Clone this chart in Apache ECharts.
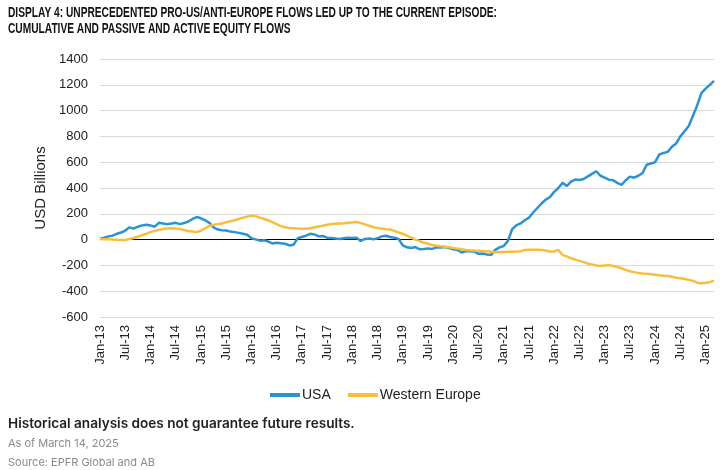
<!DOCTYPE html>
<html>
<head>
<meta charset="utf-8">
<script src="https://cdn.jsdelivr.net/npm/echarts@6/dist/echarts.min.js"></script>
<style>
html,body{margin:0;padding:0;background:#fff;}
#chart{width:724px;height:470px;}
</style>
</head>
<body>
<div id="chart"></div>
<script>
// Monthly observations from Jan-13 to Mar-25 (USD billions, cumulative flows)
const startYear = 2013;
const monthNames = ['Jan','Feb','Mar','Apr','May','Jun','Jul','Aug','Sep','Oct','Nov','Dec'];

const usa = [
  5, 15, 25, 30, 45, 55, 70, 95, 85, 100, 110, 115,
  110, 100, 130, 125, 120, 125, 130, 120, 128, 140, 160, 175,
  165, 150, 130, 95, 78, 72, 70, 62, 58, 52, 45, 38,
  10, 2, -8, -5, -15, -30, -25, -28, -32, -45, -40, 10,
  20, 30, 45, 40, 25, 28, 15, 12, 8, 5, 10, 15,
  12, 15, -10, 5, 8, 2, 10, 25, 30, 20, 15, 5,
  -45, -60, -65, -58, -75, -72, -68, -72, -60, -62, -58, -65,
  -75, -80, -100, -88, -90, -92, -110, -108, -115, -118, -80, -60,
  -50, -10, 80, 110, 125, 150, 170, 210, 245, 280, 310, 330,
  370, 400, 440, 415, 450, 465, 462, 470, 490, 510, 530, 495,
  480, 465, 460, 440, 425, 460, 488, 480, 495, 515, 580, 590,
  600, 660, 672, 680, 720, 745, 800, 840, 880, 960, 1040, 1135,
  1170, 1200, 1230
];

const westernEurope = [
  5, 3, 2, 0, -2, -3, -3, 5, 12, 22, 35, 45,
  58, 68, 75, 82, 86, 88, 87, 83, 75, 66, 62, 58,
  70, 88, 105, 116, 120, 124, 135, 142, 150, 160, 170, 178,
  185, 182, 170, 160, 150, 135, 120, 105, 95, 90, 88, 86,
  85, 85, 88, 95, 102, 108, 116, 120, 122, 124, 126, 130,
  133, 137, 128, 118, 108, 96, 90, 85, 80, 78, 68, 55,
  45, 30, 15, 0, -10, -25, -32, -42, -48, -52, -56, -60,
  -66, -70, -75, -80, -83, -85, -86, -88, -90, -95, -98, -98,
  -96, -95, -95, -93, -90, -80, -78, -78, -78, -80, -85, -93,
  -92, -80, -120, -130, -145, -155, -165, -175, -185, -192, -200, -205,
  -200, -198, -205, -212, -222, -235, -245, -252, -258, -262, -265, -268,
  -272, -276, -280, -283, -288, -295, -300, -306, -312, -320, -334, -338,
  -335, -330, -318
];

const categories = [];
for (let i = 0; i < usa.length; i++) {
  const y = startYear + Math.floor(i / 12);
  categories.push(monthNames[i % 12] + '-' + String(y).slice(2));
}

const yTicks = [-600, -400, -200, 0, 200, 400, 600, 800, 1000, 1200, 1400];
const titleLines = ['DISPLAY 4: UNPRECEDENTED PRO-US/ANTI-EUROPE FLOWS LED UP TO THE CURRENT EPISODE:',
                    'CUMULATIVE AND PASSIVE AND ACTIVE EQUITY FLOWS'];
const footnotes = ['Historical analysis does not guarantee future results.',
                   'As of March 14, 2025',
                   'Source: EPFR Global and AB'];

const splitColors = yTicks.map(v => v === 0 ? '#000000' : '#d9d9d9');

// condensed title: measure natural width, then squeeze horizontally to the reference width
const titleFontCss = 'bold 14px "Liberation Sans", Arial, sans-serif';
const mctx = document.createElement('canvas').getContext('2d');
mctx.font = titleFontCss;
const natural = mctx.measureText(titleLines[0]).width;
const titleScale = 489 / natural;

const chart = echarts.init(document.getElementById('chart'), null, {renderer: 'canvas'});
const footFont = 'Inter, "Noto Sans", sans-serif';
const axisFont = '"Liberation Sans", Arial, sans-serif';
chart.setOption({
  animation: false,
  backgroundColor: '#ffffff',
  graphic: [
    {type: 'text', left: 8, top: 6, scaleX: titleScale, originX: 0,
     style: {text: titleLines[0], font: titleFontCss, fill: '#111'}},
    {type: 'text', left: 8, top: 22, scaleX: titleScale, originX: 0,
     style: {text: titleLines[1], font: titleFontCss, fill: '#111'}}
  ],
  title: [
    {text: footnotes[0], left: 3, top: 412,
     textStyle: {fontFamily: footFont, fontWeight: 600, fontSize: 13.6, color: '#222'}},
    {text: footnotes[1], left: 3, top: 433,
     textStyle: {fontFamily: footFont, fontWeight: 'normal', fontSize: 11, color: '#8a8a8a'}},
    {text: footnotes[2], left: 3, top: 452,
     textStyle: {fontFamily: footFont, fontWeight: 'normal', fontSize: 11, color: '#8a8a8a'}}
  ],
  legend: {
    data: ['USA', 'Western Europe'],
    left: 265, top: 383,
    icon: 'rect', itemWidth: 30, itemHeight: 4, itemGap: 17,
    textStyle: {fontFamily: axisFont, fontSize: 14, color: '#222', padding: [0,0,0,-3]}
  },
  grid: {left: 100, right: 10, top: 59, bottom: 153, containLabel: false},
  xAxis: {
    type: 'category', data: categories, boundaryGap: false,
    axisLine: {show: false}, axisTick: {show: false},
    splitLine: {show: false},
    axisLabel: {interval: 5, rotate: 90, margin: 8, fontSize: 13, fontFamily: axisFont, color: '#222'}
  },
  yAxis: {
    type: 'value', min: -600, max: 1400, interval: 200,
    name: 'USD Billions', nameLocation: 'middle', nameGap: 43, nameRotate: 90,
    nameTextStyle: {fontSize: 15, fontFamily: axisFont, color: '#222'},
    axisLine: {show: false}, axisTick: {show: false},
    axisLabel: {margin: 12, fontSize: 13, fontFamily: axisFont, color: '#222',
                formatter: v => String(v)},
    splitLine: {show: true, lineStyle: {color: splitColors, width: 1}}
  },
  series: [
    {name: 'USA', type: 'line', data: usa, showSymbol: false, smooth: false,
     lineStyle: {color: '#2b93cf', width: 2.5}, itemStyle: {color: '#2b93cf'}},
    {name: 'Western Europe', type: 'line', data: westernEurope, showSymbol: false, smooth: false,
     lineStyle: {color: '#f8bd3c', width: 2.5}, itemStyle: {color: '#f8bd3c'}}
  ]
});
</script>
</body>
</html>
